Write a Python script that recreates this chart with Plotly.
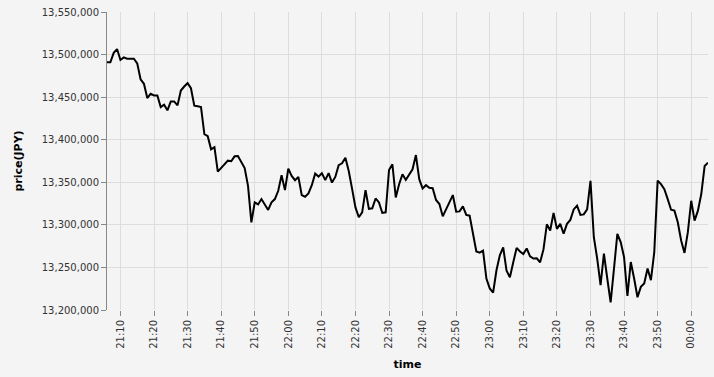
import pandas as pd
import plotly.graph_objects as go

START = "2024-01-01 21:06"

prices = [
    13491000, 13491000, 13502000, 13506500, 13493700, 13496700, 13495200, 13495200, 13495200, 13489700,
    13471000, 13465700, 13448900, 13454000, 13452000, 13452000, 13438400, 13441200, 13434500, 13445000,
    13445000, 13440300, 13457800, 13462500, 13466400, 13460500, 13440000, 13439200, 13438400, 13406500,
    13404200, 13388700, 13391300, 13362500, 13367200, 13370700, 13375400, 13374700, 13380500, 13380800,
    13373800, 13366800, 13345800, 13303000, 13326400, 13324000, 13330300, 13323700, 13317500, 13326400,
    13330300, 13340000, 13358300, 13340800, 13366000, 13357500, 13352500, 13356300, 13335000, 13333000,
    13336900, 13346600, 13360200, 13356700, 13360700, 13352500, 13360700, 13349700, 13356300, 13370000,
    13372300, 13378900, 13363300, 13342300, 13320500, 13308900, 13314700, 13340800, 13318700, 13319400,
    13331000, 13326400, 13314000, 13314700, 13364500, 13371200, 13332200, 13347800, 13359500, 13352800,
    13359500, 13365300, 13382000, 13353700, 13342700, 13346600, 13343500, 13343100, 13329200, 13324500,
    13310000, 13317800, 13327200, 13335000, 13315500, 13315800, 13321700, 13311700, 13310800, 13291400,
    13268800, 13267300, 13269700, 13237000, 13225300, 13220400, 13246700, 13264200, 13273500, 13246300,
    13238500, 13256000, 13272900, 13268800, 13265700, 13272300, 13263000, 13260400, 13260700, 13256000,
    13271200, 13300700, 13293300, 13314100, 13295300, 13301200, 13289500, 13301200, 13305800, 13318100,
    13322500, 13311800, 13312300, 13318200, 13351700, 13285500, 13260300, 13229200, 13266200, 13237000,
    13209000, 13248700, 13289500, 13279700, 13262200, 13216500, 13256400, 13237000, 13215000, 13227200,
    13231200, 13248700, 13235000, 13268000, 13352000, 13347800, 13342000, 13330300, 13317800, 13316700,
    13303000, 13281700, 13267000, 13291400, 13328300, 13305000, 13316700, 13336200, 13369200, 13373000,
]

times = pd.date_range(START, periods=len(prices), freq="min")

y_range = [13200000, 13550000]
y_step = 50000

BG = "#f4f4f4"
GRID = "#dddddd"
AXIS = "#888888"
FONT = "DejaVu Sans"

fig = go.Figure()
fig.add_trace(go.Scatter(
    x=times, y=prices, mode="lines",
    line=dict(color="#000000", width=2),
    hoverinfo="skip", showlegend=False,
))

fig.update_layout(
    width=714, height=377,
    margin=dict(l=107, r=6, t=10, b=67),
    paper_bgcolor=BG, plot_bgcolor=BG,
    font=dict(family=FONT, size=10, color="#333333"),
    xaxis=dict(
        type="date",
        range=[times[0], times[-1]],
        tickformat="%H:%M",
        dtick=600000,
        tick0="2024-01-01 21:00",
        tickangle=-90,
        showgrid=True, gridcolor=GRID, gridwidth=1,
        showline=False, zeroline=False,
        ticks="outside", ticklen=5, tickcolor=AXIS, tickwidth=1,
        tickfont=dict(family=FONT, size=10, color="#333333"),
        title=dict(text="<b>time</b>", font=dict(family=FONT, size=11, color="#000000"), standoff=12),
    ),
    yaxis=dict(
        range=y_range,
        dtick=y_step,
        tickformat=",d",
        showgrid=True, gridcolor=GRID, gridwidth=1,
        showline=True, linecolor=AXIS, linewidth=1,
        zeroline=False,
        ticks="outside", ticklen=5, tickcolor=AXIS, tickwidth=1,
        tickfont=dict(family=FONT, size=10, color="#333333"),
        title=dict(text="<b>price(JPY)</b>", font=dict(family=FONT, size=11, color="#000000"), standoff=16),
    ),
)

fig.write_html("out.html")
